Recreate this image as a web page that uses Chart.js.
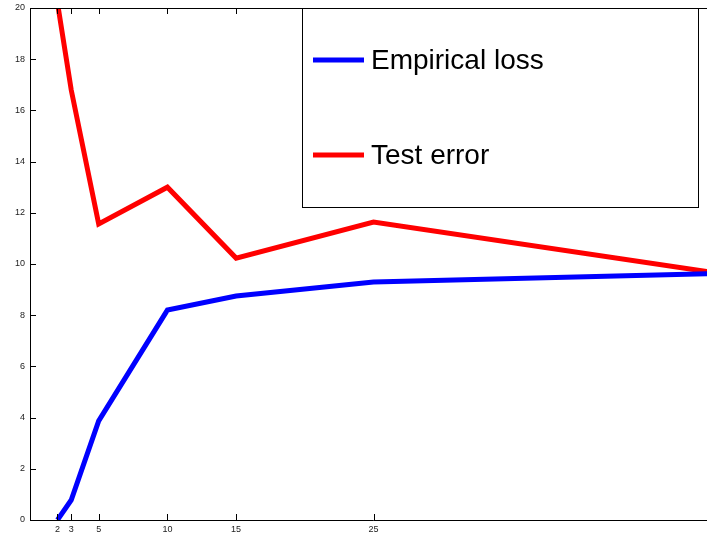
<!DOCTYPE html>
<html>
<head>
<meta charset="utf-8">
<script src="https://cdn.jsdelivr.net/npm/chart.js@4.4.1/dist/chart.umd.min.js"></script>
<style>
  html, body { margin: 0; padding: 0; background: #fff; overflow: hidden; }
  #wrap { width: 717px; height: 534px; }
</style>
</head>
<body>
<div id="wrap"><canvas id="chart" width="717" height="534"></canvas></div>
<script>
// values
const xVals = [2, 3, 5, 10, 15, 25, 50]
const empiricalLoss = [0, 0.78, 3.87, 8.2, 8.75, 9.3, 9.63]
const testError = [20.2, 16.8, 11.56, 13.0, 10.23, 11.64, 9.65]
const xTicks = [2, 3, 5, 10, 15, 25]
const yTicks = [0, 2, 4, 6, 8, 10, 12, 14, 16, 18, 20]

const ctx = document.getElementById("chart")

function pts(ys){
    return xVals.map((x, i) => ({ x: x, y: ys[i] }))
}

// matlab style box: inward ticks + top border + boxed legend
const matlabFrame = {
    id: 'matlabFrame',
    afterDraw(chart){
        const c = chart.ctx
        const a = chart.chartArea
        const sx = chart.scales.x
        const sy = chart.scales.y
        c.save()
        c.strokeStyle = '#000'
        c.lineWidth = 1
        c.beginPath()
        // axes lines
        c.moveTo(a.left + 0.5, a.top + 0.5)
        c.lineTo(a.left + 0.5, a.bottom + 0.5)
        c.lineTo(a.right, a.bottom + 0.5)
        c.moveTo(a.left, a.top + 0.5)
        c.lineTo(a.right, a.top + 0.5)
        for(const t of xTicks){
            const px = Math.round(sx.getPixelForValue(t)) + 0.5
            c.moveTo(px, a.bottom)
            c.lineTo(px, a.bottom - 6)
            c.moveTo(px, a.top)
            c.lineTo(px, a.top + 6)
        }
        for(const t of yTicks){
            const py = Math.round(sy.getPixelForValue(t)) + 0.5
            c.moveTo(a.left, py)
            c.lineTo(a.left + 6, py)
        }
        c.stroke()

        // legend box
        const bx = 302, by = Math.round(a.top), bw = 396, bh = 199
        c.fillStyle = '#fff'
        c.fillRect(bx, by, bw, bh)
        c.strokeRect(bx + 0.5, by + 0.5, bw, bh)
        const rows = [60, 155]
        chart.data.datasets.forEach((ds, i) => {
            c.strokeStyle = ds.borderColor
            c.lineWidth = 5
            c.beginPath()
            c.moveTo(313, rows[i])
            c.lineTo(364, rows[i])
            c.stroke()
            c.fillStyle = '#000'
            c.font = '28px "Liberation Sans", Arial, sans-serif'
            c.textBaseline = 'middle'
            c.textAlign = 'left'
            c.fillText(ds.label, 371, rows[i] + 1)
        })
        c.restore()
    }
}

new Chart(ctx, {
    type: 'line',
    data: {
        datasets: [
            {
                label: 'Empirical loss',
                data: pts(empiricalLoss),
                borderColor: '#0000ff',
                borderWidth: 5,
                pointRadius: 0,
                tension: 0
            },
            {
                label: 'Test error',
                data: pts(testError),
                borderColor: '#ff0000',
                borderWidth: 5,
                pointRadius: 0,
                tension: 0
            }
        ]
    },
    options: {
        responsive: false,
        animation: false,
        layout: { padding: { top: 8, right: 0, left: 0, bottom: 0 } },
        plugins: {
            legend: { display: false },
            tooltip: { enabled: false }
        },
        scales: {
            x: {
                type: 'linear',
                min: 0,
                max: 50,
                grid: { display: false, drawTicks: false },
                border: { display: false },
                afterBuildTicks: (s) => { s.ticks = xTicks.map(v => ({ value: v })) },
                afterFit: (s) => { s.height = 14; s.paddingLeft = 0; s.paddingRight = 0 },
                ticks: {
                    autoSkip: false,
                    maxRotation: 0,
                    padding: 4,
                    color: '#222',
                    font: { family: '"Liberation Sans", Arial, sans-serif', size: 9 }
                }
            },
            y: {
                min: 0,
                max: 20,
                grid: { display: false, drawTicks: false },
                border: { display: false },
                afterBuildTicks: (s) => { s.ticks = yTicks.map(v => ({ value: v })) },
                afterFit: (s) => { s.width = 30; s.paddingTop = 0; s.paddingBottom = 0 },
                ticks: {
                    padding: 5,
                    color: '#222',
                    font: { family: '"Liberation Sans", Arial, sans-serif', size: 9 }
                }
            }
        }
    },
    plugins: [matlabFrame]
})
</script>
</body>
</html>
